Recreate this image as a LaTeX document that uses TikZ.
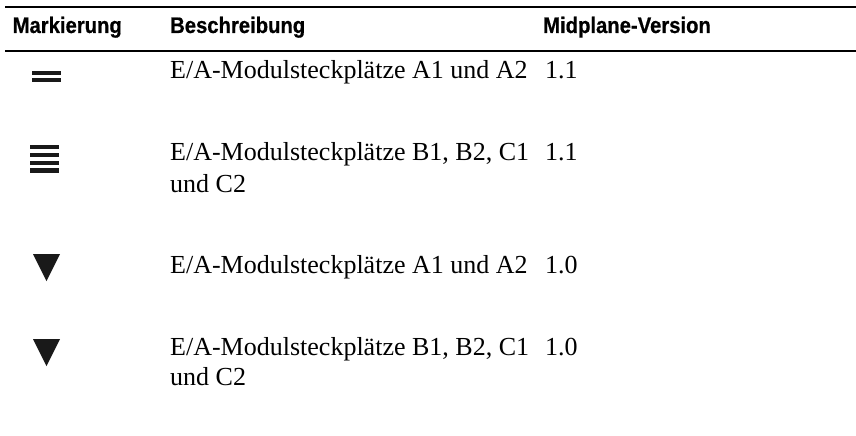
\documentclass[tikz,border=0pt]{standalone}
\usepackage{fontspec}
\setmainfont{Liberation Serif}
\newfontfamily\hdfont{Liberation Sans}[FakeStretch=0.9,BoldFeatures={FakeBold=0.6}]
\begin{document}
\begin{tikzpicture}[x=1pt,y=1pt,
  hdr/.style={anchor=base west,inner sep=0pt,font=\hdfont\bfseries\fontsize{22.5}{26}\selectfont},
  txt/.style={anchor=base west,inner sep=0pt,font=\fontsize{26}{32}\selectfont},
  rulecl/.style={line width=2pt},
  barcl/.style={fill=black!90,draw=none}]
\useasboundingbox (0,0) rectangle (856,-436);
% rules
\coordinate (r1a) at (5,-7.5);
\coordinate (r1b) at (856,-7.5);
\coordinate (r2a) at (5,-51);
\coordinate (r2b) at (856,-51);
\draw[rulecl] (r1a) -- (r1b);
\draw[rulecl] (r2a) -- (r2b);
% header
\node[hdr] (h1) at (12.5,-33) {Markierung};
\node[hdr] (h2) at (170,-33) {Beschreibung};
\node[hdr] (h3) at (543,-33) {Midplane-Version};
% row 1
\fill[barcl] (32,-71) rectangle (61,-75);
\fill[barcl] (32,-77.8) rectangle (61,-82);
\node[txt] (d1) at (170,-78) {E/A-Modulsteckplätze A1 und A2};
\node[txt] (v1) at (545,-78) {1.1};
% row 2
\foreach \y in {145,152.8,160.6,168.4}
  \fill[barcl] (30,-\y) rectangle (59,-\y-4.4);
\node[txt] (d2) at (170,-160) {E/A-Modulsteckplätze B1, B2, C1};
\node[txt] (d2b) at (170,-192) {und C2};
\node[txt] (v2) at (545,-160) {1.1};
% row 3
\fill[barcl] (33,-254) -- (60,-254) -- (46.5,-281) -- cycle;
\node[txt] (d3) at (170,-273) {E/A-Modulsteckplätze A1 und A2};
\node[txt] (v3) at (545,-273) {1.0};
% row 4
\fill[barcl] (33,-339) -- (60,-339) -- (46.5,-366) -- cycle;
\node[txt] (d4) at (170,-355) {E/A-Modulsteckplätze B1, B2, C1};
\node[txt] (d4b) at (170,-385) {und C2};
\node[txt] (v4) at (545,-355) {1.0};
\end{tikzpicture}
\end{document}
